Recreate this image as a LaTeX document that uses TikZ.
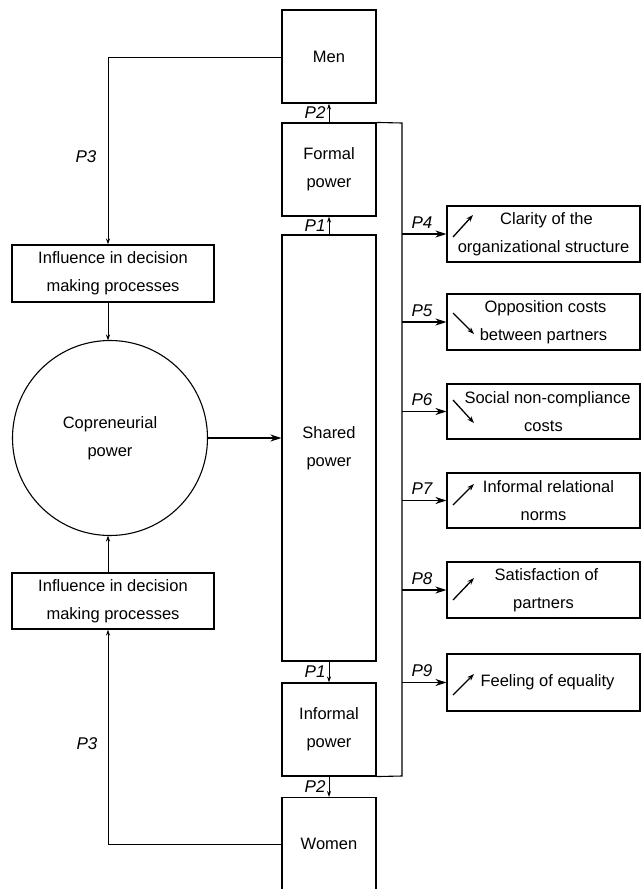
\documentclass[tikz,border=0pt]{standalone}
\usepackage{fontspec}
\setmainfont{Liberation Sans}
\usetikzlibrary{arrows.meta}
\begin{document}
\begin{tikzpicture}[x=1pt,y=-1pt,
  box/.style={draw,line width=1.1pt,align=center,inner sep=0pt,font=\fontsize{16.5}{28}\selectfont},
  lbl/.style={font=\fontsize{17}{18}\selectfont\itshape,inner sep=0pt},
  thinarr/.style={line width=1pt,-{Stealth[length=6pt,width=4pt]}},
  thickarr/.style={line width=1.5pt,-{Stealth[length=11pt,width=7pt]}},
  sign/.style={line width=1.3pt,-{Stealth[length=7pt,width=5pt]}},
  plain/.style={line width=1.1pt}]
\useasboundingbox (0,0) rectangle (641,889);
% central column
\node[box,minimum width=94pt,minimum height=93pt] (men) at (329,56.5) {Men};
\node[box,minimum width=94pt,minimum height=93pt] (formal) at (329,169.5) {Formal\\power};
\node[box,minimum width=94pt,minimum height=426pt] (shared) at (329,448) {Shared\\power};
\node[box,minimum width=94pt,minimum height=93pt] (informal) at (329,729.5) {Informal\\power};
\node[box,minimum width=94pt,minimum height=120pt,anchor=north,text depth=0pt] (women) at (329,797) {};
\node[font=\fontsize{16.5}{28}\selectfont] (womentxt) at (329,844) {Women};
% left column
\node[box,minimum width=202pt,minimum height=57pt] (inf1) at (113,273.5) {Influence in decision\\making processes};
\node[box,minimum width=202pt,minimum height=56pt] (inf2) at (113,601) {Influence in decision\\making processes};
\node[box,circle,minimum size=195pt] (cop) at (110,438) {Copreneurial\\power};
% right column
\node[box,minimum width=193pt,minimum height=56pt] (r4) at (543.5,234) {\hspace*{6pt}Clarity of the\\organizational structure};
\node[box,minimum width=193pt,minimum height=56pt] (r5) at (543.5,322) {\hspace*{4pt}Opposition costs\\between partners};
\node[box,minimum width=193pt,minimum height=55pt] (r6) at (543.5,411.5) {\hspace*{8pt}Social non-compliance\\costs};
\node[box,minimum width=193pt,minimum height=55pt] (r7) at (543.5,500.5) {\hspace*{10pt}Informal relational\\norms};
\node[box,minimum width=193pt,minimum height=56pt] (r8) at (543.5,590) {\hspace*{6pt}Satisfaction of\\partners};
\node[box,minimum width=193pt,minimum height=57pt] (r9) at (543.5,682.5) {\hspace*{8pt}Feeling of equality};
% trend signs
\draw[sign] (453,237) -- (473,215);
\draw[sign] (453,313) -- (474,334);
\draw[sign] (453,400) -- (474,423);
\draw[sign] (453,505) -- (474,484);
\draw[sign] (453,600) -- (474,578);
\draw[sign] (453,695) -- (474,674);
% vertical arrows in column
\draw[thinarr] (formal.north) -- (men.south) node[lbl,pos=0.5,left=3pt] (p2a) {P2};
\draw[thinarr] (shared.north) -- (formal.south) node[lbl,pos=0.5,left=3pt] (p1a) {P1};
\draw[thinarr] (shared.south) -- (informal.north) node[lbl,pos=0.5,left=3pt] (p1b) {P1};
\draw[thinarr] (informal.south) -- (women.north) node[lbl,pos=0.5,left=3pt] (p2b) {P2};
% feedback bus
\coordinate (bt) at (402,123);
\coordinate (bb) at (402,776);
\draw[plain] (formal.north east) -- (bt) -- (bb) -- (informal.south east);
\foreach \n/\p in {r4/P4,r5/P5,r6/P6,r7/P7,r8/P8,r9/P9}{
  \coordinate (s\n) at (bt |- \n.west);
  \draw[thickarr] (s\n) -- (\n.west) node[lbl,pos=0.45,above=5pt] {\p};
}
% left connectors
\coordinate (mc) at (108,57);
\coordinate (wc) at (108,844);
\draw[thinarr] (men.west |- mc) -- (mc) -- (mc |- inf1.north);
\node[lbl] (p3a) at (86,157) {P3};
\draw[thinarr] (women.west |- wc) -- (wc) -- (wc |- inf2.south);
\node[lbl] (p3b) at (87,744) {P3};
\draw[thinarr] (108,302) -- (108,340.5);
\draw[thinarr] (108,573) -- (108,535.5);
\draw[thickarr] (cop.east) -- (shared.west |- cop.east);
\end{tikzpicture}
\end{document}
